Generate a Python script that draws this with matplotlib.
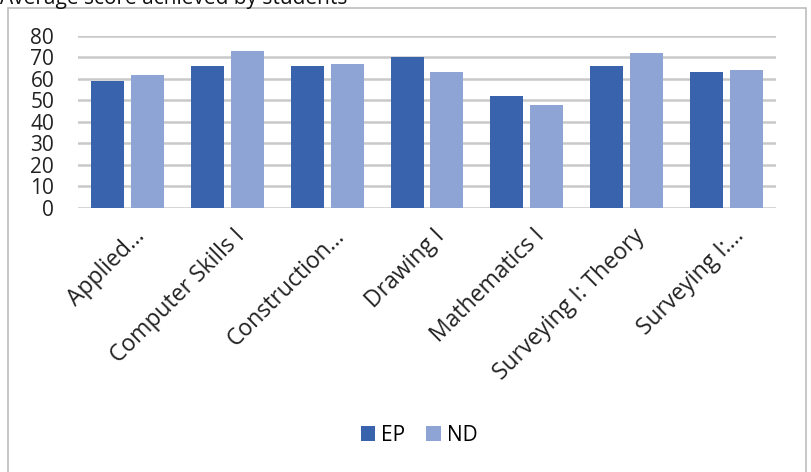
import numpy as np
import matplotlib
matplotlib.use("Agg")
import matplotlib.pyplot as plt
import matplotlib.transforms as mtransforms
from matplotlib.patches import Rectangle

plt.rcParams['font.family'] = ['Open Sans', 'DejaVu Sans']

courses = ['Applied...', 'Computer Skills I', 'Construction...', 'Drawing I',
           'Mathematics I', 'Surveying I: Theory', 'Surveying I:...']
ep = [59, 66, 66, 70, 52, 66, 63]
nd = [62, 73, 67, 63, 48, 72, 64]
yticks = [0, 10, 20, 30, 40, 50, 60, 70, 80]

fig = plt.figure(figsize=(8.11, 4.72), dpi=100)
ax = fig.add_axes([0.096, 0.56, 0.861, 0.364])

x = np.arange(len(courses))
w = 0.33
ax.bar(x - 0.2, ep, w, color='#3A63AE', label='EP', zorder=3)
ax.bar(x + 0.2, nd, w, color='#8EA4D5', label='ND', zorder=3)

ax.set_xlim(-0.5, len(courses) - 0.5)
ax.set_ylim(0, 80)
ax.set_yticks(yticks)
ax.yaxis.grid(True, color='#c9c9c9', linewidth=1.8, zorder=0)
ax.set_axisbelow(True)
for s in ['top', 'right', 'left', 'bottom']:
    ax.spines[s].set_visible(False)
ax.tick_params(axis='both', length=0)
ax.tick_params(axis='y', labelsize=15, pad=17, labelcolor='#222222')
ax.set_xticks(x)
ax.set_xticklabels(courses, rotation=45, ha='right', va='center',
                   rotation_mode='anchor', fontsize=16.5, color='#222222')
ax.tick_params(axis='x', pad=0)
# nudge the slanted labels right and down from the tick
shift = mtransforms.ScaledTranslation(0.14, -0.25, fig.dpi_scale_trans)
for lbl in ax.get_xticklabels():
    lbl.set_transform(lbl.get_transform() + shift)

# outer chart frame
fig.patches.append(Rectangle((8 / 811, -0.05), 798 / 811, 1.05 - 8 / 472,
                             transform=fig.transFigure, fill=False,
                             edgecolor='#bdbdbd', linewidth=1.2))

# caption line above the frame, mostly outside the canvas
fig.text(0.0, 1.0 + 0.026, 'Average score achieved by students', fontsize=15,
         ha='left', va='top', color='#111111')

fig.legend(loc='center', bbox_to_anchor=(0.517, 0.078), ncol=2, frameon=False,
           fontsize=15, handlelength=0.7, handleheight=0.7,
           columnspacing=1.0, handletextpad=0.3)

fig.savefig('out.png', dpi=100)
